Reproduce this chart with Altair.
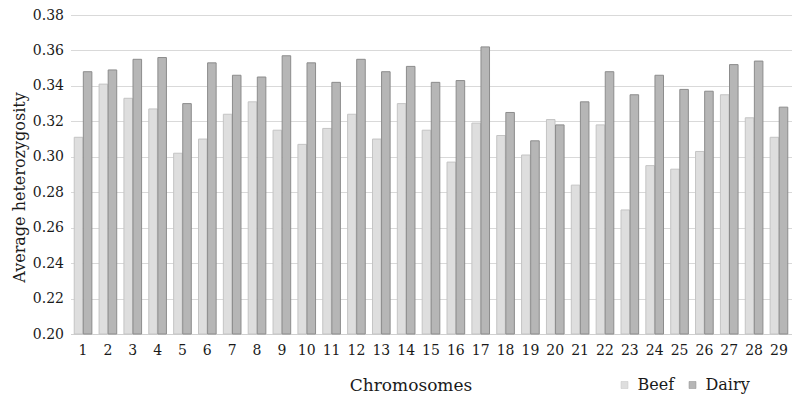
import altair as alt
import pandas as pd

chromosomes = [str(i) for i in range(1, 30)]
series = ["Beef", "Dairy"]
beef = [0.311, 0.341, 0.333, 0.327, 0.302, 0.310, 0.324, 0.331, 0.315, 0.307,
        0.316, 0.324, 0.310, 0.330, 0.315, 0.297, 0.319, 0.312, 0.301, 0.321,
        0.284, 0.318, 0.270, 0.295, 0.293, 0.303, 0.335, 0.322, 0.311]
dairy = [0.348, 0.349, 0.355, 0.356, 0.330, 0.353, 0.346, 0.345, 0.357, 0.353,
         0.342, 0.355, 0.348, 0.351, 0.342, 0.343, 0.362, 0.325, 0.309, 0.318,
         0.331, 0.348, 0.335, 0.346, 0.338, 0.337, 0.352, 0.354, 0.328]
y_ticks = [0.20, 0.22, 0.24, 0.26, 0.28, 0.30, 0.32, 0.34, 0.36, 0.38]

df = pd.DataFrame({
    "chrom": chromosomes * 2,
    "breed": [series[0]] * len(beef) + [series[1]] * len(dairy),
    "value": beef + dairy,
})

FONT = "DejaVu Serif"
TXT = "#1a1a1a"

chart = alt.Chart(df).mark_bar(strokeWidth=1).encode(
    x=alt.X("chrom:O", sort=chromosomes,
            scale=alt.Scale(paddingInner=0.29, paddingOuter=0.15),
            axis=alt.Axis(title="Chromosomes", labelAngle=0, ticks=False,
                          domainColor="#d0d0d0", labelFontSize=14, labelPadding=9,
                          titleFontSize=17, titlePadding=20, titleFontWeight="normal",
                          titleX=340, grid=False)),
    xOffset=alt.XOffset("breed:N", sort=series, scale=alt.Scale(paddingInner=0.06)),
    y=alt.Y("value:Q",
            scale=alt.Scale(domain=[0.2, 0.38], nice=False, zero=False),
            axis=alt.Axis(title="Average heterozygosity", values=y_ticks, format=".2f",
                          domain=False, ticks=False, gridColor="#d9d9d9",
                          labelFontSize=14, labelPadding=7, titleFontSize=16,
                          titleFontWeight="normal", titlePadding=5, titleY=172)),
    y2=alt.Y2Datum(0.2),
    color=alt.Color("breed:N", sort=series,
                    scale=alt.Scale(domain=series, range=["#dedede", "#b6b6b6"]),
                    legend=alt.Legend(title=None, orient="none", legendX=546, legendY=362,
                                      direction="horizontal", symbolType="square",
                                      symbolSize=49, labelFontSize=16, labelFont=FONT,
                                      labelColor=TXT, symbolStrokeColor="#a0a0a0",
                                      symbolStrokeWidth=0.5, columnPadding=10,
                                      labelOffset=5)),
    stroke=alt.Stroke("breed:N", sort=series,
                      scale=alt.Scale(domain=series, range=["#c4c4c4", "#8c8c8c"]),
                      legend=None),
).properties(
    width=721,
    height=319,
    autosize=alt.AutoSizeParams(type="none"),
    padding={"left": 62.5, "top": 7, "right": 0, "bottom": 62},
).configure_axis(
    labelFont=FONT, titleFont=FONT, labelColor=TXT, titleColor=TXT,
).configure_view(stroke=None)

chart.save("out.html", embed_options={"renderer": "svg", "actions": False})
